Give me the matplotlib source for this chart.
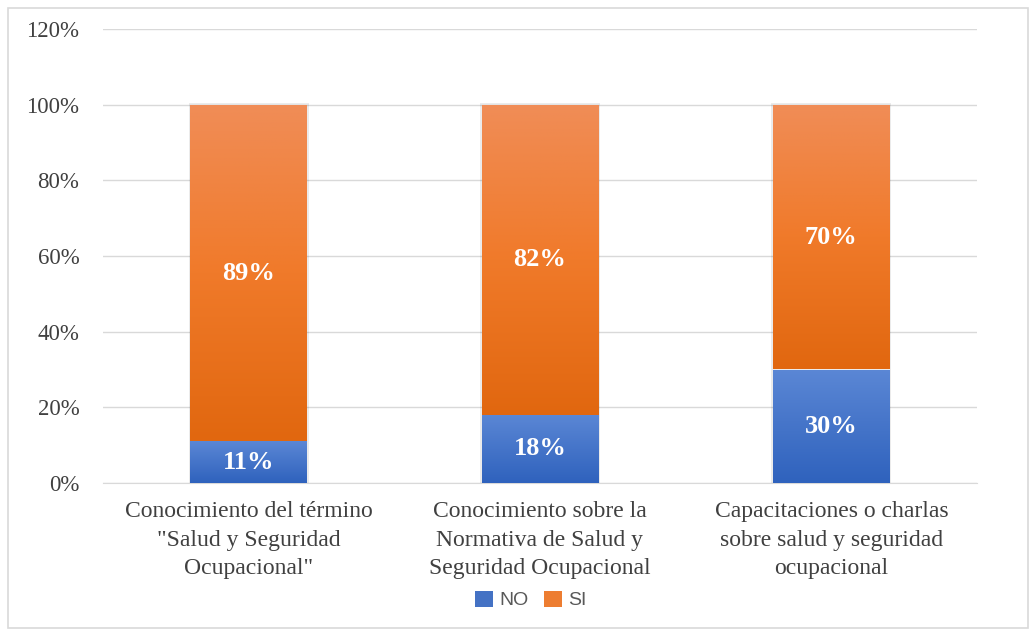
import matplotlib
matplotlib.use("Agg")
import matplotlib.pyplot as plt
import numpy as np
from matplotlib.patches import Rectangle, Patch
from matplotlib.colors import LinearSegmentedColormap

categories = ['Conocimiento del término\n"Salud y Seguridad\nOcupacional"',
              'Conocimiento sobre la\nNormativa de Salud y\nSeguridad Ocupacional',
              'Capacitaciones o charlas\nsobre salud y seguridad\nocupacional']
no_vals = [11, 18, 30]
si_vals = [89, 82, 70]
yticks = [0, 20, 40, 60, 80, 100, 120]

serif = ['Liberation Serif', 'DejaVu Serif']
fig = plt.figure(figsize=(10.32, 6.31), dpi=100)
ax = fig.add_axes([103/1032, 1-483/631, 874/1032, 454/631])

x = np.arange(len(categories))
w = 0.40
blue_cmap = LinearSegmentedColormap.from_list('b', ['#2f62bd', '#5b87d5'])
orange_cmap = LinearSegmentedColormap.from_list('o', ['#e1670f', '#f07a2a', '#f08d57'])
grad = np.linspace(0, 1, 256).reshape(-1, 1)

def grad_bar(xc, bottom, height, cmap):
    bar = ax.bar(xc, height, w, bottom=bottom, color='none', edgecolor='none', zorder=3)[0]
    im = ax.imshow(grad, cmap=cmap, aspect='auto', origin='lower',
                   extent=[xc - w/2, xc + w/2, bottom, bottom + height], zorder=3)
    im.set_clip_path(bar)

for i in range(len(categories)):
    ax.add_patch(Rectangle((x[i] - w/2 - 0.006, 0), w + 0.012, 100.4, facecolor='#000000',
                           alpha=0.08, edgecolor='none', zorder=2))
    grad_bar(x[i], 0, no_vals[i], blue_cmap)
    grad_bar(x[i], no_vals[i], si_vals[i], orange_cmap)
    ax.text(x[i], no_vals[i]/2, f'{no_vals[i]}%', ha='center', va='center', color='white',
            fontsize=19, fontweight='bold', family=serif, zorder=5)
    ax.text(x[i], no_vals[i] + si_vals[i]/2, f'{si_vals[i]}%', ha='center', va='center',
            color='white', fontsize=19, fontweight='bold', family=serif, zorder=5)

ax.set_xlim(-0.5, 2.5)
ax.set_ylim(0, 120)
ax.set_yticks(yticks)
ax.set_yticklabels([f'{v}%' for v in yticks], family=serif, fontsize=16.5, color='#404040')
ax.set_xticks(x)
ax.set_xticklabels(categories, family=serif, fontsize=17, color='#404040', linespacing=1.48)
ax.tick_params(axis='x', length=0, pad=13)
ax.tick_params(axis='y', length=0, pad=17)
ax.grid(axis='y', color='#d9d9d9', linewidth=1, zorder=0)
ax.set_axisbelow(True)
for s in ['top', 'right', 'left']:
    ax.spines[s].set_visible(False)
ax.spines['bottom'].set_color('#d9d9d9')

handles = [Patch(facecolor='#4472c4', label='NO'), Patch(facecolor='#ed7d31', label='SI')]
fig.legend(handles=handles, loc='center', bbox_to_anchor=(531/1032, 1-600/631), ncol=2,
           frameon=False, prop={'family': 'Liberation Sans', 'size': 14},
           handlelength=0.9, handleheight=0.9, handletextpad=0.35, columnspacing=0.8,
           labelcolor='#595959')

fig.patches.append(Rectangle((8/1032, 3/631), 1020/1032, 620/631, transform=fig.transFigure,
                             fill=False, edgecolor='#d9d9d9', linewidth=1.2))
fig.savefig('out.png', dpi=100)
